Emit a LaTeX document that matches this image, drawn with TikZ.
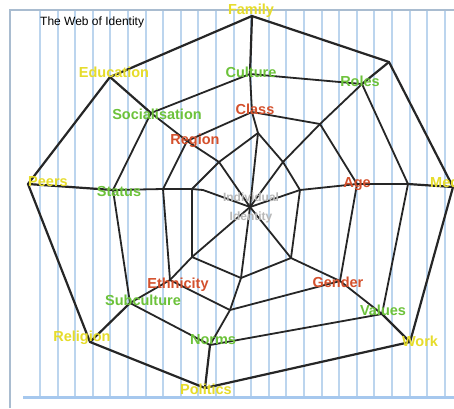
\documentclass[tikz,border=0pt]{standalone}
\usepackage{fontspec}
\setmainfont{Liberation Sans}
\definecolor{labyel}{HTML}{E6DC2A}
\definecolor{labgreen}{HTML}{6CC23A}
\definecolor{labred}{HTML}{D4502C}
\definecolor{stripec}{HTML}{BCD5EE}
\definecolor{framec}{HTML}{A9BCD0}
\definecolor{bottomc}{HTML}{A6C8EE}
\definecolor{centc}{HTML}{B8B8B8}
\begin{document}
\begin{tikzpicture}[x=1pt,y=-1pt,
  web/.style={line width=1.8pt, line join=round, line cap=round, black!85},
  outerweb/.style={line width=2.2pt, line join=round, line cap=round, black!85},
  stripe/.style={line width=2pt, stripec},
  lab/.style={font=\fontsize{14.5}{16}\selectfont\bfseries, inner sep=0pt, text height=10.4pt, text depth=2pt},
  yel/.style={lab, text=labyel},
  grn/.style={lab, text=labgreen},
  rd/.style={lab, text=labred}]
\useasboundingbox (0,0) rectangle (454,408);
\fill[white] (0,0) rectangle (454,408);
% background stripes
\foreach \k in {0,...,23} \draw[stripe] ({40+17.6*\k},10) -- ({40+17.6*\k},397);
\draw[framec, line width=1.2pt] (10,408) -- (10,10) -- (454,10);
\draw[bottomc, line width=3pt] (23,397) -- (454,397);
% web vertices
\coordinate (O) at (250,207);
\coordinate (Y1) at (252,16);  \coordinate (G1) at (250,74);  \coordinate (R1) at (252,112); \coordinate (I1) at (258,133);
\coordinate (Y2) at (389,62);  \coordinate (G2) at (362,84);  \coordinate (R2) at (320,124); \coordinate (I2) at (283,162);
\coordinate (Y3) at (453,187); \coordinate (G3) at (408,184); \coordinate (R3) at (357,184); \coordinate (I3) at (300,190);
\coordinate (Y4) at (410,342); \coordinate (G4) at (382,314); \coordinate (R4) at (340,281); \coordinate (I4) at (291,258);
\coordinate (Y5) at (205,388); \coordinate (G5) at (210,345); \coordinate (R5) at (230,310); \coordinate (I5) at (241,278);
\coordinate (Y6) at (90,342);  \coordinate (G6) at (130,303); \coordinate (R6) at (170,280); \coordinate (I6) at (192,257);
\coordinate (Y7) at (28,184);  \coordinate (G7) at (113,190); \coordinate (R7) at (163,189); \coordinate (I7) at (192,189);
\coordinate (Y8) at (110,77);  \coordinate (G8) at (151,113); \coordinate (R8) at (187,141); \coordinate (I8) at (219,162);
\coordinate (K7) at (203,190);
% rings
\draw[outerweb] (Y1)--(Y2)--(Y3)--(Y4)--(Y5)--(Y6)--(Y7)--(Y8)--cycle;
\draw[web] (G1)--(G2)--(G3)--(G4)--(G5)--(G6)--(G7)--(G8)--cycle;
\draw[web] (R1)--(R2)--(R3)--(R4)--(R5)--(R6)--(R7)--(R8)--cycle;
\draw[web] (I1)--(I2)--(I3)--(I4)--(I5)--(I6)--(I7)--(I8)--cycle;
% spokes
\foreach \i in {1,2,3,4,5,6,8} {
  \draw[web] (O)--(I\i)--(R\i)--(G\i);
  \draw[outerweb] (G\i)--(Y\i);
}
\draw[web] (O)--(K7)--(I7)--(R7)--(G7);
\draw[outerweb] (G7)--(Y7);
% title
\node[font=\fontsize{12}{14}\selectfont, inner sep=0pt, anchor=west] (title) at (40,22) {The Web of Identity};
% centre
\node[font=\fontsize{12}{19}\selectfont\bfseries, text=centc, align=center, inner sep=0pt] (centre) at (251,208) {Individual\\Identity};
% outer labels
\node[yel] (family) at (251,10) {Family};
\node[yel] (education) at (114,73) {Education};
\node[yel] (peers) at (48,182) {Peers};
\node[yel, anchor=west] (media) at (430,183) {Media};
\node[yel] (religion) at (82,337) {Religion};
\node[yel] (politics) at (206,390) {Politics};
\node[yel] (work) at (420,342) {Work};
% middle labels
\node[grn] (culture) at (251,73) {Culture};
\node[grn] (roles) at (360,82) {Roles};
\node[grn] (socialisation) at (157,115) {Socialisation};
\node[grn] (status) at (119,192) {Status};
\node[grn] (subculture) at (143,301) {Subculture};
\node[grn] (norms) at (213,340) {Norms};
\node[grn] (values) at (383,311) {Values};
% inner labels
\node[rd] (class) at (255,110) {Class};
\node[rd] (region) at (195,140) {Region};
\node[rd] (age) at (357,183) {Age};
\node[rd] (ethnicity) at (178,284) {Ethnicity};
\node[rd] (gender) at (338,283) {Gender};
\end{tikzpicture}
\end{document}
